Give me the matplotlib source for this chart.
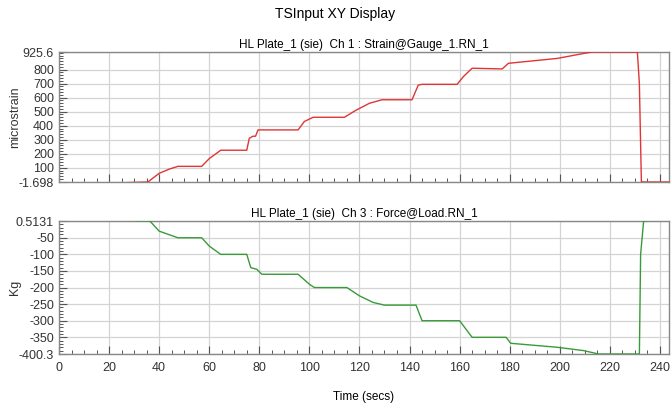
import matplotlib.pyplot as plt
from matplotlib.ticker import MultipleLocator

plt.rcParams["font.family"] = ["Liberation Sans", "DejaVu Sans"]

# strain channel (Ch 1)
t_strain = [0, 35.5, 40, 44, 47.5, 57, 60, 64.6, 75, 76, 77.5, 78.5, 79.5, 95.5, 98, 101.5,
            114, 118.6, 124, 129, 141, 143.5, 145, 159, 161.5, 165, 177, 179.5, 199, 209.5,
            213, 231, 231.8, 232.6, 233.5, 245]
strain = [-20, -1.698, 60, 90, 110, 110, 165, 225, 225, 310, 325, 325, 370, 370, 430, 460,
          460, 510, 560, 585, 585, 690, 695, 695, 750, 810, 805, 845, 880, 915,
          925.6, 925.6, 700, 0, -1.698, -1.698]

# force channel (Ch 3)
t_force = [0, 36.3, 40, 47.5, 57, 60, 64.6, 75, 76.6, 79, 81, 95.5, 100, 102, 115, 120,
           125.5, 130, 142.6, 145, 160, 165, 178.6, 180.4, 199, 209.5, 215.5, 231.8,
           232.3, 233.5, 245]
force = [10, 0.5131, -30, -50, -50, -75, -100, -100, -140, -145, -160, -160, -190, -200,
         -200, -225, -245, -253, -253, -300, -300, -350, -350, -368, -380, -390, -400.3,
         -400.3, -100, 0.5131, 10]

strain_ticks = [-1.698, 100, 200, 300, 400, 500, 600, 700, 800, 925.6]
strain_labels = ["-1.698", "100", "200", "300", "400", "500", "600", "700", "800", "925.6"]
force_ticks = [-400.3, -350, -300, -250, -200, -150, -100, -50, 0.5131]
force_labels = ["-400.3", "-350", "-300", "-250", "-200", "-150", "-100", "-50", "0.5131"]

fig = plt.figure(figsize=(6.71, 4.07), dpi=100)
ax1 = fig.add_axes([0.0879, 0.5528, 0.909, 0.3194])
ax2 = fig.add_axes([0.0879, 0.1302, 0.909, 0.3268])

fig.text(0.5, 0.965, "TSInput XY Display", ha="center", va="center", fontsize=10)


def style(ax, ticks, labels, minor):
    ax.set_xlim(0, 243.6)
    ax.set_ylim(ticks[0], ticks[-1])
    ax.set_yticks(ticks)
    ax.set_yticklabels(labels)
    ax.yaxis.set_minor_locator(MultipleLocator(minor))
    ax.xaxis.set_major_locator(MultipleLocator(20))
    ax.xaxis.set_minor_locator(MultipleLocator(5))
    ax.grid(True, which="major", color="#d4d4d4", lw=0.9)
    ax.set_axisbelow(True)
    ax.tick_params(which="major", direction="in", length=6, width=0.8, color="#555555",
                   labelsize=9, labelcolor="#333333", top=False, right=False)
    ax.tick_params(axis="x", which="major", pad=6)
    ax.tick_params(which="minor", direction="in", length=3, width=0.7, color="#555555")
    for s in ax.spines.values():
        s.set_color("#888888")
        s.set_linewidth(1.0)


ax1.plot(t_strain, strain, color="#e03535", lw=1.0, zorder=3)
style(ax1, strain_ticks, strain_labels, 20)
ax1.set_xticklabels([])
ax1.set_title("HL Plate_1 (sie)  Ch 1 : Strain@Gauge_1.RN_1", fontsize=8.5, pad=3)
ax1.set_ylabel("microstrain", fontsize=9, color="#333333")
ax1.yaxis.set_label_coords(-0.062, 0.5)

ax2.plot(t_force, force, color="#3a9a3a", lw=1.0, zorder=3)
style(ax2, force_ticks, force_labels, 10)
ax2.set_title("HL Plate_1 (sie)  Ch 3 : Force@Load.RN_1", fontsize=8.5, pad=3)
ax2.set_ylabel("Kg", fontsize=9, color="#333333")
ax2.yaxis.set_label_coords(-0.062, 0.5)
ax2.set_xlabel("Time (secs)", fontsize=8.5, labelpad=12)

fig.savefig("out.png", dpi=100)
